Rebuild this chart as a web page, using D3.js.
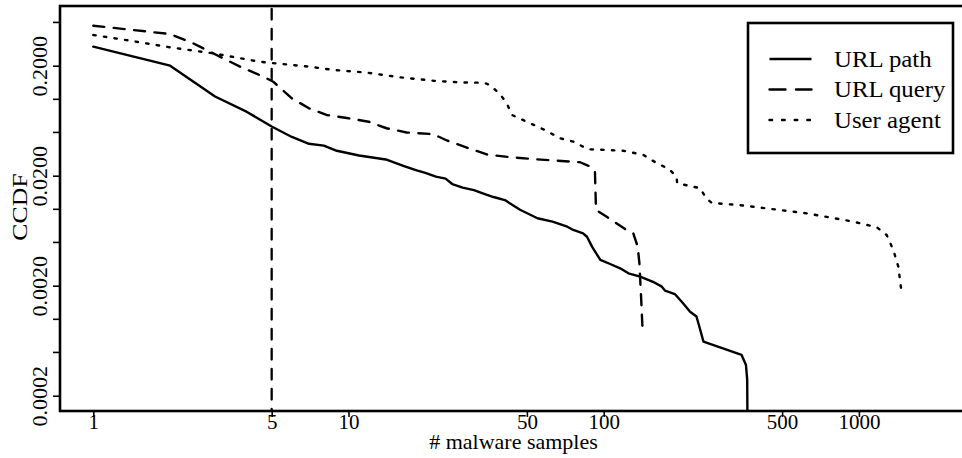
<!DOCTYPE html>
<html>
<head>
<meta charset="utf-8">
<script src="https://cdn.jsdelivr.net/npm/d3@7"></script>
<style>
  html, body { margin: 0; padding: 0; background: #fff; }
  svg { display: block; }
  text { font-family: "Liberation Serif", "Times New Roman", Times, serif; fill: #000; }
</style>
</head>
<body>
<svg id="chart" width="962" height="458"></svg>
<script>
// ---------------- data ----------------
const xTicks = [1, 5, 10, 50, 100, 500, 1000];
const yTicks = [0.5, 0.2, 0.1, 0.05, 0.02, 0.01, 0.005, 0.002, 0.001, 0.0005, 0.0002];
const yLabelValues = [0.2, 0.02, 0.002, 0.0002];
const yLabelTexts = ["0.2000", "0.0200", "0.0020", "0.0002"];
const xTitle = "# malware samples";
const yTitle = "CCDF";
const seriesNames = ["URL path", "URL query", "User agent"];
const thresholdX = 5;

const urlPath = [
  [1, 0.298], [2, 0.200], [3, 0.105], [4, 0.076], [5, 0.056], [6, 0.045], [7, 0.039],
  [8, 0.0375], [9, 0.0337], [11, 0.0305], [14, 0.0281], [16.5, 0.0245], [18.5, 0.0224],
  [20, 0.0212], [22, 0.0196], [24, 0.0188], [25.5, 0.0168], [28, 0.0156], [31, 0.0148],
  [34, 0.0137], [37, 0.0128], [41, 0.0120], [43, 0.0112], [47, 0.0098], [55, 0.0082],
  [63, 0.00764], [72, 0.00688], [76, 0.00642], [83, 0.00599], [86, 0.00557], [90, 0.00453],
  [97, 0.00343], [106, 0.00315], [116, 0.00288], [125, 0.00259], [139, 0.00242],
  [156, 0.00217], [169, 0.00196], [174, 0.0018], [190, 0.00168], [205, 0.00138],
  [218, 0.00116], [231, 0.00105], [238, 0.00082], [246, 0.00062], [347, 0.000469],
  [361, 0.00038], [365, 0.000278], [366, 0.0001]
];
const urlQuery = [
  [1, 0.462], [2, 0.388], [2.46, 0.32], [3.04, 0.25], [3.76, 0.196], [4.64, 0.159],
  [5.07, 0.143], [6, 0.101], [7, 0.082], [8.2, 0.0713], [10, 0.0665], [12, 0.0619],
  [14.1, 0.054], [16.9, 0.0494], [21.5, 0.0477], [24.3, 0.0418], [29.1, 0.036],
  [34.8, 0.0312], [42.2, 0.0296], [54.6, 0.0282], [80.8, 0.0265], [88.4, 0.0243],
  [92.4, 0.0218], [93.3, 0.00975], [102.8, 0.00847], [123, 0.0064], [130.6, 0.00599],
  [135.9, 0.00453], [138, 0.0032], [140, 0.00165], [142.2, 0.00074]
];
const userAgent = [
  [1, 0.38], [1.35, 0.342], [2, 0.294], [2.95, 0.259], [4.5, 0.217], [7, 0.196],
  [8.72, 0.183], [11.8, 0.173], [15.9, 0.157], [21.5, 0.146], [27.3, 0.141], [34, 0.140],
  [35.8, 0.1335], [39.2, 0.1106], [41.7, 0.091], [43.7, 0.0713], [49.9, 0.0619],
  [58.9, 0.052], [67.4, 0.0438], [76, 0.0408], [86.8, 0.0348], [119.4, 0.0337],
  [143, 0.0309], [161.4, 0.026], [180.3, 0.023], [193, 0.0195], [194, 0.0171],
  [238.4, 0.0154], [253.4, 0.0123], [265.6, 0.0113], [342, 0.0108], [624, 0.0091],
  [951, 0.00764], [1175, 0.0068], [1285, 0.00578], [1364, 0.00423], [1427, 0.00298],
  [1471, 0.00171]
];

// ---------------- layout ----------------
const box = { left: 60, right: 967, top: 6, bottom: 411 };
const svg = d3.select("#chart");

const x = d3.scaleLog().domain([1, 1000]).range([93.3, 858.9]);
const y = d3.scaleLog().domain([0.2, 0.0002]).range([65.7, 395.7]);

const styles = [
  { dash: null, legendDash: null },
  { dash: "11,9.5", legendDash: "16,10.5" },
  { dash: "2.4,8.3", legendDash: "2.6,10" }
];
const series = [urlPath, urlQuery, userAgent];

svg.append("clipPath").attr("id", "plotclip")
  .append("rect")
  .attr("x", box.left).attr("y", box.top)
  .attr("width", box.right - box.left).attr("height", box.bottom - box.top);

const plot = svg.append("g").attr("clip-path", "url(#plotclip)");

// threshold line
plot.append("line")
  .attr("x1", x(thresholdX)).attr("x2", x(thresholdX))
  .attr("y1", box.top).attr("y2", box.bottom)
  .attr("stroke", "#000").attr("stroke-width", 2.3)
  .attr("stroke-dasharray", "10.5,9.5").attr("stroke-linecap", "round")
  .attr("stroke-dashoffset", -3);

const line = d3.line().x(d => x(d[0])).y(d => y(d[1]));
series.forEach((s, i) => {
  plot.append("path")
    .attr("d", line(s))
    .attr("fill", "none")
    .attr("stroke", "#000")
    .attr("stroke-width", 2.4)
    .attr("stroke-linejoin", "round")
    .attr("stroke-linecap", "round")
    .attr("stroke-dasharray", styles[i].dash);
});

// box (extends past right edge)
svg.append("rect")
  .attr("x", box.left).attr("y", box.top)
  .attr("width", box.right - box.left).attr("height", box.bottom - box.top)
  .attr("fill", "none").attr("stroke", "#000").attr("stroke-width", 2.6);

// y axis
const yAxis = d3.axisLeft(y).tickValues(yTicks).tickSizeOuter(0).tickSize(7)
  .tickFormat(v => {
    const k = yLabelValues.findIndex(l => Math.abs(l - v) / l < 1e-6);
    return k >= 0 ? yLabelTexts[k] : "";
  });
const gy = svg.append("g").attr("transform", `translate(${box.left},0)`).call(yAxis);
gy.select(".domain").remove();
gy.selectAll(".tick line").attr("stroke", "#000").attr("stroke-width", 1.6);
gy.selectAll(".tick text")
  .attr("x", null).attr("y", null).attr("dy", null)
  .attr("text-anchor", "middle")
  .attr("transform", "translate(-13.5,0) rotate(-90)")
  .style("font-size", "22px")
  .style("font-family", '"Liberation Serif", "Times New Roman", serif');

// x axis
const xAxis = d3.axisBottom(x).tickValues(xTicks).tickSizeOuter(0).tickSize(6)
  .tickFormat(d3.format("d"));
const gx = svg.append("g").attr("transform", `translate(0,${box.bottom})`).call(xAxis);
gx.select(".domain").remove();
gx.selectAll(".tick line").attr("stroke", "#000").attr("stroke-width", 1.6);
gx.selectAll(".tick text")
  .attr("y", 18).attr("dy", null)
  .style("font-size", "21px")
  .style("font-family", '"Liberation Serif", "Times New Roman", serif');

// titles
svg.append("text")
  .attr("x", 513.5).attr("y", 449)
  .attr("text-anchor", "middle")
  .style("font-size", "22px")
  .text(xTitle);

svg.append("text")
  .attr("transform", "translate(27,207) rotate(-90) scale(1.2,1)")
  .attr("text-anchor", "middle")
  .style("font-size", "21.5px")
  .text(yTitle);

// legend
const lg = svg.append("g");
lg.append("rect")
  .attr("x", 748).attr("y", 23).attr("width", 205).attr("height", 130)
  .attr("fill", "#fff").attr("stroke", "#000").attr("stroke-width", 2.6);
const rowY = [59, 89.5, 120];
seriesNames.forEach((name, i) => {
  lg.append("line")
    .attr("x1", 769.5).attr("x2", 811.5)
    .attr("y1", rowY[i]).attr("y2", rowY[i])
    .attr("stroke", "#000").attr("stroke-width", 2.4)
    .attr("stroke-linecap", i === 0 ? "butt" : "round")
    .attr("stroke-dasharray", styles[i].legendDash);
  lg.append("text")
    .attr("transform", `translate(834,${rowY[i] + 7.5}) scale(1.08,1)`)
    .style("font-size", "23px")
    .text(name);
});
</script>
</body>
</html>
